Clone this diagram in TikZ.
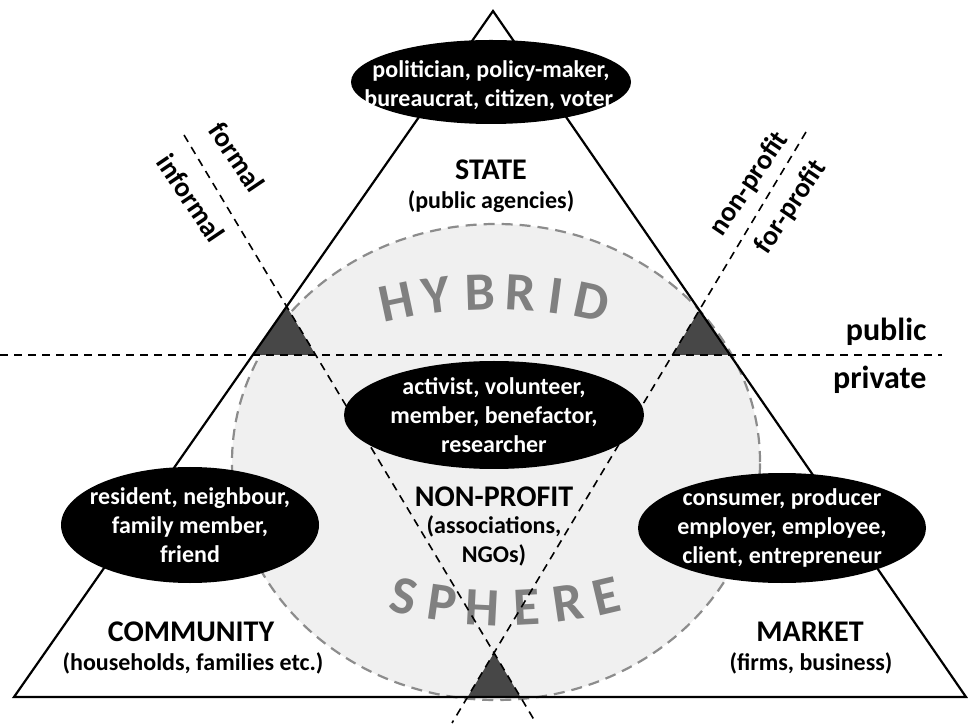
\documentclass[tikz,border=0pt]{standalone}
\usepackage{fontspec}
\setmainfont{Carlito}
\usetikzlibrary{shapes.geometric, calc}

\begin{document}
\begin{tikzpicture}[
        x=1pt, y=1pt,
        font=\bfseries\fontsize{24}{29}\selectfont,
        role/.style={fill=black},
        roletext/.style={text=white, align=center, inner sep=0pt},
        title/.style={font=\bfseries\fontsize{30}{34}\selectfont},
        sector/.style={align=center},
        linelabel/.style={font=\bfseries\fontsize{28}{32}\selectfont},
        divider/.style={line width=1.6pt, dash pattern=on 8pt off 6pt},
        overlap/.style={fill=black!72},
        hybrid/.style={fill=black!6, draw=black!45, line width=2.2pt, dash pattern=on 11pt off 7pt},
        bigletter/.style={text=black!50, font=\bfseries\fontsize{54}{54}\selectfont, inner sep=0pt}
    ]

    \useasboundingbox (0,0) rectangle (968,723);

    % Corners of the triangle
    \coordinate (apex) at (493,712);
    \coordinate (bl) at (14,26);
    \coordinate (br) at (966,26);

    % Dividing lines
    \coordinate (pubW) at (0,368);
    \coordinate (pubE) at (942,368);
    \coordinate (vtx) at (494,70);
    \coordinate (fmTop) at (184,588);
    \coordinate (fmEnd) at (536,0);
    \coordinate (npTop) at (806,591);
    \coordinate (npEnd) at (452,0);

    % Hybrid sphere
    \draw[hybrid] (496,261) ellipse [x radius=264, y radius=238];

    \coordinate (hyc) at (494,-39);
    \foreach \ch/\ang [count=\i] in {H/102, Y/97.1, B/91.7, R/86.7, I/82.4, D/78}
        \node[bigletter, rotate=\ang-90] (hy\i) at ($(hyc)+(\ang:470)$) {\ch};
    \coordinate (spc) at (505,555);
    \foreach \ch/\ang [count=\i] in {S/256.7, P/261.8, H/267.1, E/272.9, R/278.2, E/283.3}
        \node[bigletter, rotate=\ang+90] (sp\i) at ($(spc)+(\ang:440)$) {\ch};

    % Overlap zones
    \coordinate (lUp) at (intersection of bl--apex and fmTop--vtx);
    \coordinate (lPub) at (intersection of bl--apex and pubW--pubE);
    \coordinate (lIn) at (intersection of fmTop--vtx and pubW--pubE);
    \coordinate (rUp) at (intersection of br--apex and npTop--vtx);
    \coordinate (rPub) at (intersection of br--apex and pubW--pubE);
    \coordinate (rIn) at (intersection of npTop--vtx and pubW--pubE);
    \coordinate (bLeft) at (intersection of npTop--vtx and bl--br);
    \coordinate (bRight) at (intersection of fmTop--vtx and bl--br);
    \fill[overlap] (lUp) -- (lPub) -- (lIn) -- cycle;
    \fill[overlap] (rUp) -- (rPub) -- (rIn) -- cycle;
    \fill[overlap] (vtx) -- (bLeft) -- (bRight) -- cycle;

    \draw[divider] (pubW) -- (pubE);
    \draw[divider] (fmTop) -- (fmEnd);
    \draw[divider] (npTop) -- (npEnd);

    % Triangle
    \draw[line width=2.2pt] (apex) -- (bl) -- (br) -- cycle;

    % Roles
    \fill[role] (491,641) ellipse [x radius=140, y radius=42];
    \node[roletext] (polity) at (491,638) {politician, policy-maker,\\bureaucrat, citizen, voter,};
    \fill[role] (494,308) ellipse [x radius=150, y radius=54];
    \node[roletext] (civic) at (494,308) {activist, volunteer,\\member, benefactor,\\researcher};
    \fill[role] (190,198) ellipse [x radius=129, y radius=58];
    \node[roletext] (kin) at (190,198) {resident, neighbour,\\family member,\\friend};
    \fill[role] (782,195) ellipse [x radius=144, y radius=55];
    \node[roletext] (trade) at (782,195) {consumer, producer\\employer, employee,\\client, entrepreneur};

    % Sectors
    \node[title] (state) at (491,553) {STATE};
    \node[sector] (stateSub) at (491,521) {(public agencies)};
    \node[title] (nonprofit) at (494,226) {NON-PROFIT};
    \node[sector] (nonprofitSub) at (494,182) {(associations,\\NGOs)};
    \node[title] (community) at (191,91) {COMMUNITY};
    \node[sector] (communitySub) at (193,60) {(households, families etc.)};
    \node[title] (market) at (810,91) {MARKET};
    \node[sector] (marketSub) at (811,60) {(firms, business)};

    % Line labels
    \node[linelabel, font=\bfseries\fontsize{32}{36}\selectfont, anchor=east] (pub) at (930,391) {public};
    \node[linelabel, font=\bfseries\fontsize{32}{36}\selectfont, anchor=east] (priv) at (930,343) {private};
    \node[linelabel, rotate=-56] (formal) at (237,566) {formal};
    \node[linelabel, rotate=-56] (informal) at (191,525) {informal};
    \node[linelabel, rotate=56] (nonprof) at (749,539) {non-profit};
    \node[linelabel, rotate=56] (forprof) at (791,516) {for-profit};

\end{tikzpicture}
\end{document}
